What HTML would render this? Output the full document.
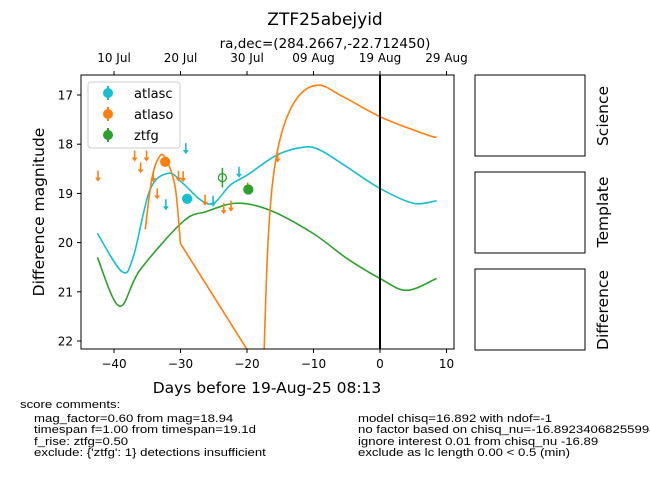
<!DOCTYPE html>
<html><head><meta charset="utf-8"><style>
body{margin:0;background:#fff;}
svg{display:block;font-family:"DejaVu Sans","Liberation Sans",sans-serif;}
</style></head><body>
<svg id="chart" width="650" height="500" viewBox="0 0 650 500">
<defs><clipPath id="plotclip"><rect x="81" y="75" width="373" height="274"/></clipPath></defs>
<text x="325" y="25" font-size="17" text-anchor="middle">ZTF25abejyid</text>
<text x="325" y="48" font-size="13.5" text-anchor="middle">ra,dec=(284.2667,-22.712450)</text>
<g id="plot"></g>
<rect x="81" y="75" width="373" height="274" fill="none" stroke="#000" stroke-width="1"/>
<text x="267" y="393" font-size="15.5" text-anchor="middle">Days before 19-Aug-25 08:13</text>
<text transform="translate(44,212) rotate(-90)" font-size="15.5" text-anchor="middle">Difference magnitude</text>
<g>
<rect x="88" y="82" width="92" height="66" rx="3" fill="#fff" stroke="#ccc"/>
<g><line x1="108" y1="86" x2="108" y2="100" stroke="#17becf" stroke-width="2"/><circle cx="108" cy="93" r="5" fill="#17becf"/><text x="134" y="98" font-size="13">atlasc</text></g>
<g><line x1="108" y1="107" x2="108" y2="121" stroke="#ff7f0e" stroke-width="2"/><circle cx="108" cy="114" r="5" fill="#ff7f0e"/><text x="134" y="119" font-size="13">atlaso</text></g>
<g><line x1="108" y1="128" x2="108" y2="142" stroke="#2ca02c" stroke-width="2"/><circle cx="108" cy="135" r="5" fill="#2ca02c"/><text x="134" y="140" font-size="13">ztfg</text></g>
</g>
<rect x="475" y="75" width="110" height="81" fill="none" stroke="#000"/>
<rect x="475" y="172" width="110" height="81" fill="none" stroke="#000"/>
<rect x="475" y="269" width="110" height="81" fill="none" stroke="#000"/>
<text transform="translate(608,116) rotate(-90)" font-size="15.5" text-anchor="middle">Science</text>
<text transform="translate(608,212) rotate(-90)" font-size="15.5" text-anchor="middle">Template</text>
<text transform="translate(608,310) rotate(-90)" font-size="15.5" text-anchor="middle">Difference</text>
<g font-size="11" font-family="'Liberation Sans',sans-serif">
<g transform="translate(20,0) scale(1.2,1)">
<text x="0" y="408">score comments:</text>
<text x="11.7" y="422">mag_factor=0.60 from mag=18.94</text>
<text x="11.7" y="433">timespan f=1.00 from timespan=19.1d</text>
<text x="11.7" y="445">f_rise: ztfg=0.50</text>
<text x="11.7" y="456">exclude: {'ztfg': 1} detections insufficient</text>
</g>
<g transform="translate(358,0) scale(1.2,1)">
<text x="0" y="422">model chisq=16.892 with ndof=-1</text>
<text x="0" y="433">no factor based on chisq_nu=-16.892340682559983</text>
<text x="0" y="445">ignore interest 0.01 from chisq_nu -16.89</text>
<text x="0" y="456">exclude as lc length 0.00 &lt; 0.5 (min)</text>
</g>
</g>
</svg>
<script>
const xTicks=[-40,-30,-20,-10,0,10];
const yTicks=[17,18,19,20,21,22];
const topTickLabels=["10 Jul","20 Jul","30 Jul","09 Aug","19 Aug","29 Aug"];
const topTickDays=[-40,-30,-20,-10,0,10];
const cyanDays=[-42.5,-38.8,-37.1,-34.6,-31.8,-29.6,-27.0,-25.0,-22.5,-20.0,-15.5,-11.5,-9.0,-5.0,0,5.0,8.5];
const cyanMags=[19.81,20.59,20.29,18.93,18.59,18.80,19.13,19.20,18.83,18.63,18.22,18.06,18.12,18.46,18.90,19.20,19.15];
const greenDays=[-42.5,-39.2,-36.1,-29.6,-26.1,-21.6,-16.6,-10.1,-5.0,0,4.0,8.5];
const greenMags=[20.30,21.29,20.56,19.57,19.37,19.20,19.34,19.81,20.32,20.73,20.97,20.73];
const orangeADays=[-35.3,-34.3,-33.1,-32.1,-30.8,-30.0];
const orangeAMags=[19.73,18.7,18.24,18.32,18.87,20.02];
const orangeLineDays=[-30.0,-18.0];
const orangeLineMags=[20.02,22.6];
const orangeBDays=[-17.6,-16.8,-15.5,-13.0,-9.5,-5.5,0,5.0,8.0,8.5];
const orangeBMags=[23.0,19.89,18.19,17.17,16.80,17.04,17.44,17.71,17.85,17.85];
const atlasoLimDays=[-42.4,-36.9,-35.1,-36.0,-34.1,-33.5,-30.3,-29.6,-26.3,-23.5,-22.4,-19.9,-15.4];
const atlasoLimMags=[18.66,18.25,18.25,18.49,18.67,19.02,18.66,18.67,19.15,19.32,19.27,18.90,18.27];
const atlascLimDays=[-32.2,-29.2,-25.1,-21.2];
const atlascLimMags=[19.24,18.10,19.17,18.58];
const detDays=[-29.0,-32.3,-19.8,-23.7];
const detMags=[19.11,18.36,18.92,18.68];
const detColors=["#17becf","#ff7f0e","#2ca02c","#2ca02c"];
const detFilled=[true,true,true,false];
const detErr=[0.05,0.05,0.1,0.2];

const X=d=>380+d*6.65;
const Y=m=>95+(m-17)*49.2;
const NS="http://www.w3.org/2000/svg";
const svg=document.getElementById('chart');
const plot=document.getElementById('plot');
function mk(tag,attrs,parent){const e=document.createElementNS(NS,tag);for(const k in attrs)e.setAttribute(k,attrs[k]);(parent||svg).appendChild(e);return e;}
const fmt=t=>t<0?'\u2212'+(-t):String(t);
xTicks.forEach(t=>{const x=X(t);
 const l=mk('line',{x1:x,x2:x,y1:349,y2:353,stroke:'#000'});
 
 
 const tx=mk('text',{x:x,y:368,'font-size':12,'text-anchor':'middle'});tx.textContent=fmt(t);
 
 });
topTickDays.forEach((t,i)=>{const x=X(t);
 const l=mk('line',{x1:x,x2:x,y1:71,y2:75,stroke:'#000'});
 
 
 const tx=mk('text',{x:x,y:62,'font-size':12,'text-anchor':'middle'});tx.textContent=topTickLabels[i];
 
 });
yTicks.forEach(t=>{const y=Y(t);
 const l=mk('line',{x1:77,x2:81,y1:y,y2:y,stroke:'#000'});
 
 
 const tx=mk('text',{x:73,y:y+4.5,'font-size':12,'text-anchor':'end'});tx.textContent=t;
 
 });
const g=mk('g',{'clip-path':'url(#plotclip)'},plot);
function smooth(ds,ms){const p=ds.map((d,i)=>[X(d),Y(ms[i])]);let s=`M${p[0][0]},${p[0][1]}`;
 for(let i=0;i<p.length-1;i++){const p0=p[i-1]||p[i],p1=p[i],p2=p[i+1],p3=p[i+2]||p2;
  const c1=[p1[0]+(p2[0]-p0[0])/6,p1[1]+(p2[1]-p0[1])/6],c2=[p2[0]-(p3[0]-p1[0])/6,p2[1]-(p3[1]-p1[1])/6];
  s+=` C${c1[0]},${c1[1]} ${c2[0]},${c2[1]} ${p2[0]},${p2[1]}`;}return s;}
function curve(ds,ms,col,name){const p=mk('path',{d:smooth(ds,ms),fill:'none',stroke:col,'stroke-width':1.6},g);
 
 }
curve(cyanDays,cyanMags,'#17becf','atlasc-model-line');
curve(greenDays,greenMags,'#2ca02c','ztfg-model-line');
curve(orangeADays,orangeAMags,'#ff7f0e','atlaso-model-line-early');
curve(orangeLineDays,orangeLineMags,'#ff7f0e','atlaso-model-line-decline');
curve(orangeBDays,orangeBMags,'#ff7f0e','atlaso-model-line-late');
const v=mk('line',{x1:X(0),x2:X(0),y1:75,y2:349,stroke:'#000','stroke-width':2},g);


function arrows(ds,ms,col,name){ds.forEach((d,i)=>{const x=X(d),y=Y(ms[i]);
 const a=mk('g',{},g);
 
 
 mk('line',{x1:x,x2:x,y1:y-6,y2:y+2,stroke:col,'stroke-width':1.6},a);
 mk('path',{d:`M${x-3},${y+1} L${x+3},${y+1} L${x},${y+5} Z`,fill:col},a);});}
arrows(atlasoLimDays,atlasoLimMags,'#ff7f0e','atlaso-upper-limit');
arrows(atlascLimDays,atlascLimMags,'#17becf','atlasc-upper-limit');
detDays.forEach((d,i)=>{const x=X(d),y=Y(detMags[i]),c=detColors[i];
 const a=mk('g',{},g);
 
 
 mk('line',{x1:x,x2:x,y1:Y(detMags[i]-detErr[i]),y2:Y(detMags[i]+detErr[i]),stroke:c,'stroke-width':1.6},a);
 mk('circle',{cx:x,cy:y,r:detFilled[i]?4.5:4,fill:detFilled[i]?c:'none',stroke:c,'stroke-width':1.3},a);});
</script>
</body></html>
